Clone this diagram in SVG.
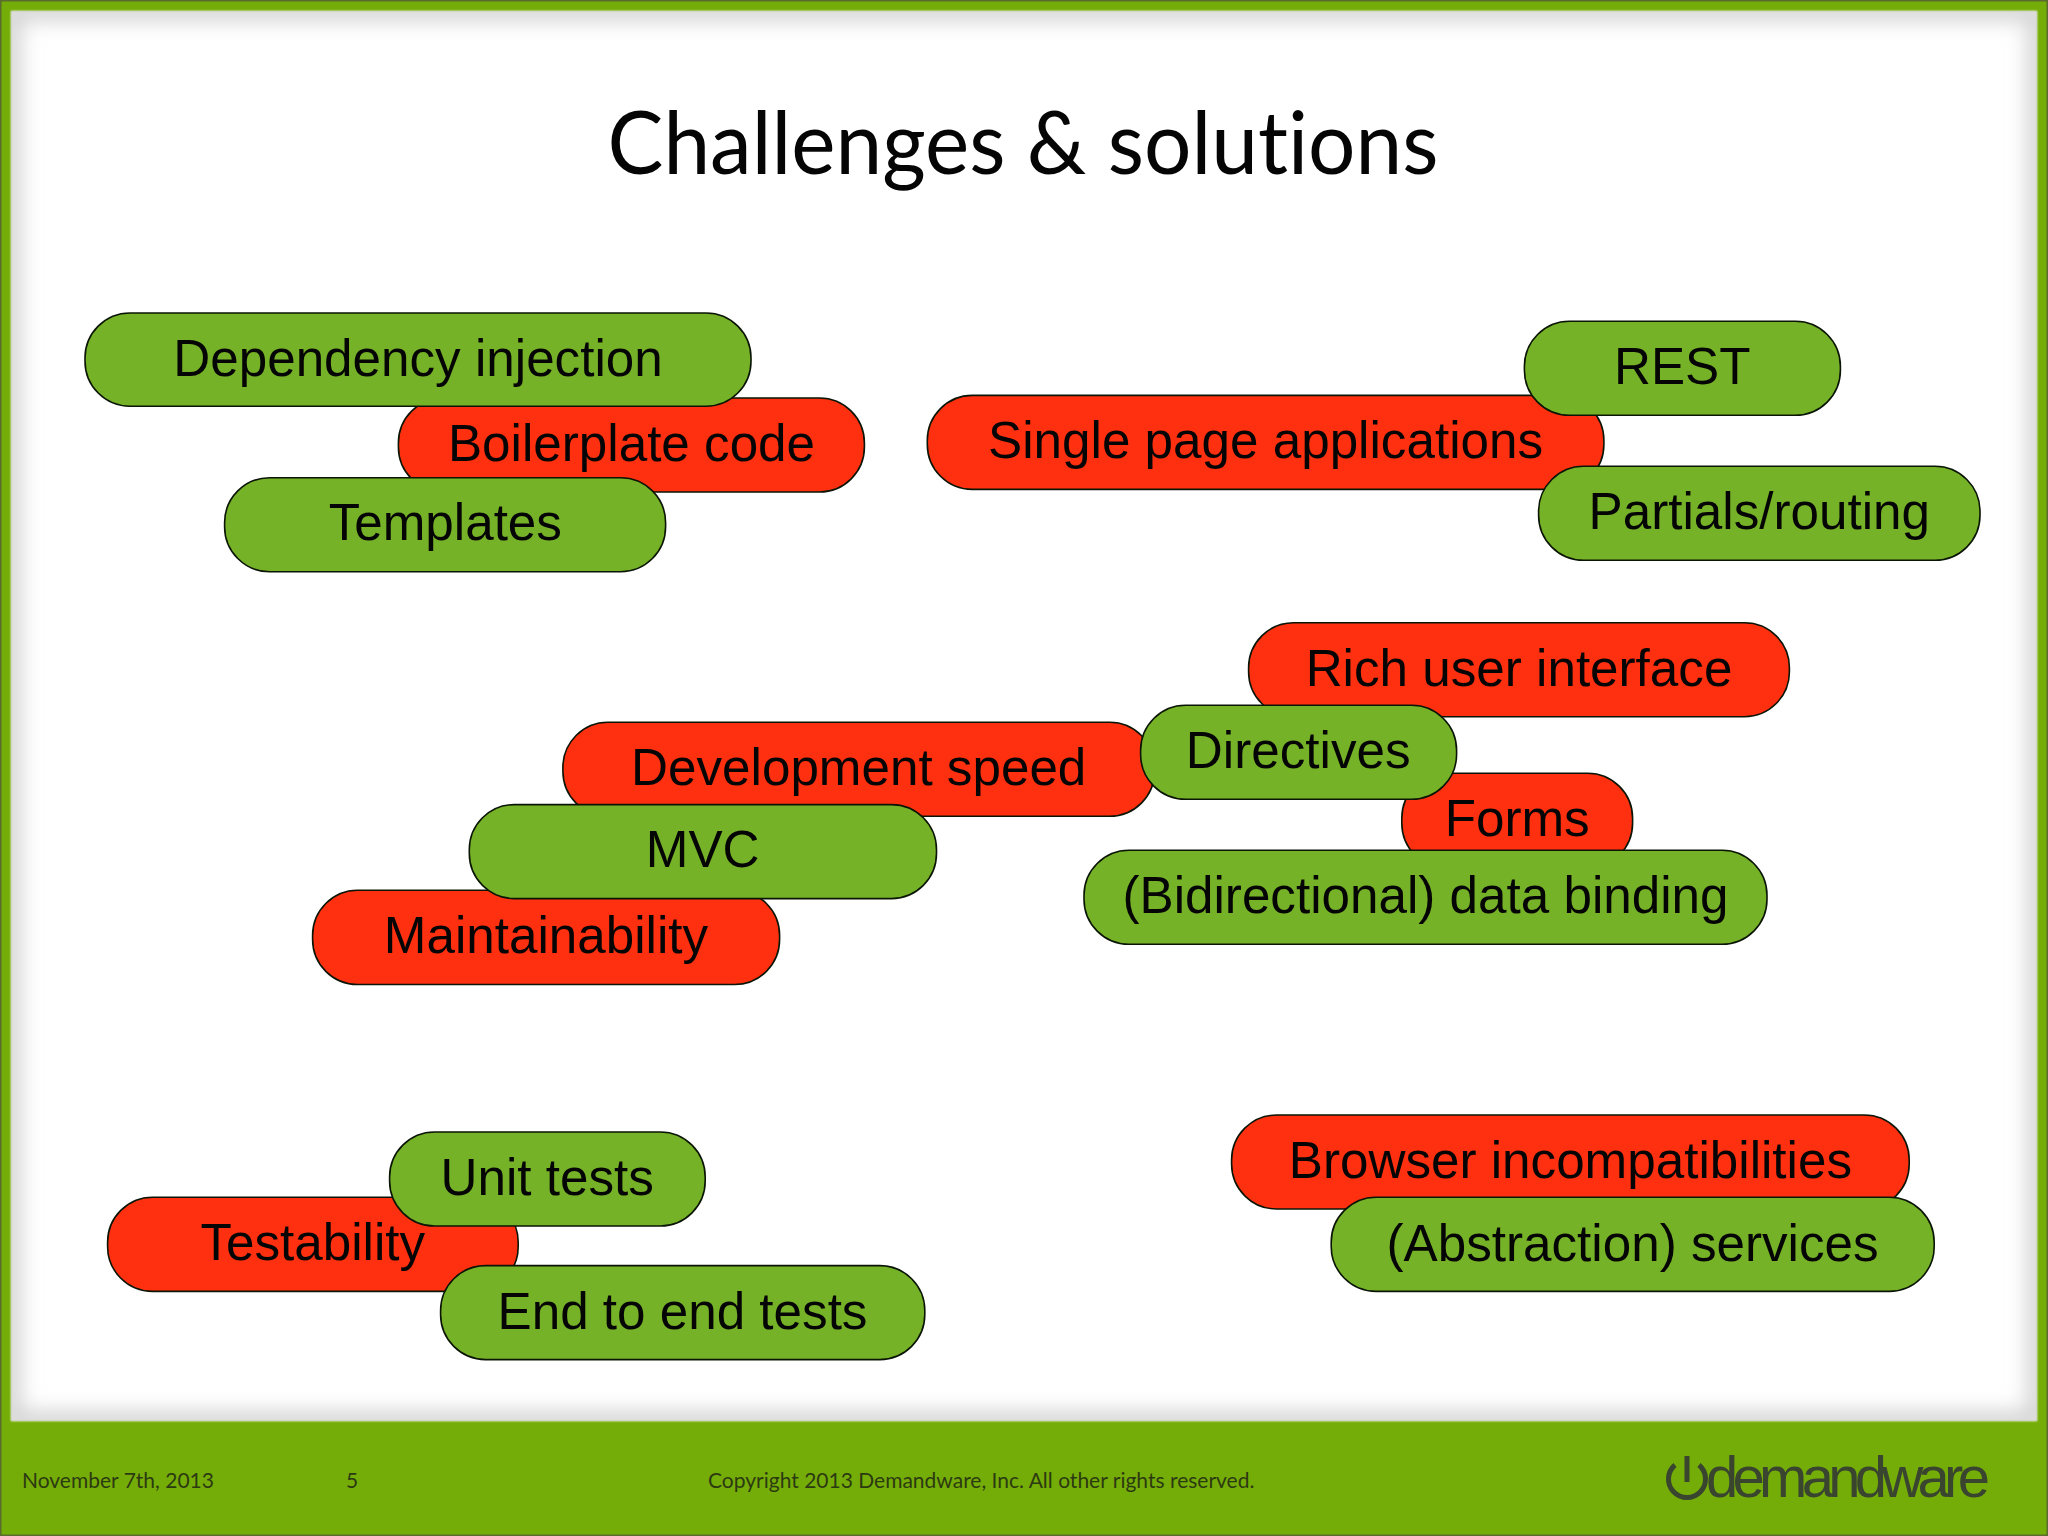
<svg xmlns="http://www.w3.org/2000/svg" width="2048" height="1536" viewBox="0 0 2048 1536">
<defs>
<style>
.g{fill:#76b227;stroke:#0a1505;stroke-width:1.6}
.r{fill:#ff3010;stroke:#0a1505;stroke-width:1.6}
.t{font-family:"Liberation Sans",Arial,sans-serif;font-size:51.2px;fill:#050505;text-anchor:middle}
.f{font-family:Lato,"Open Sans",sans-serif;font-size:21px;fill:#2c3a12}
</style>
<filter id="b" x="-5%" y="-5%" width="110%" height="110%"><feGaussianBlur stdDeviation="10"/></filter>
<filter id="s" x="-1%" y="-1%" width="102%" height="102%"><feGaussianBlur stdDeviation="1"/></filter>
<clipPath id="c"><rect x="11" y="11" width="2026" height="1410"/></clipPath>
</defs>
<rect id="bg" x="0" y="0" width="2048" height="1536" fill="#75ad08" stroke="#5a6b30" stroke-width="3"/>
<rect x="11" y="11" width="2026" height="1410" fill="#fff" filter="url(#s)"/>
<g clip-path="url(#c)"><rect x="11" y="11" width="2026" height="1410" fill="none" stroke="#d2d2d2" stroke-width="20" filter="url(#b)"/></g>
<text id="title" x="1023" y="174" font-family="Lato,'Open Sans',sans-serif" font-size="88" fill="#050505" text-anchor="middle" textLength="831" lengthAdjust="spacingAndGlyphs" style="font-variant-ligatures:none">Challenges &amp; solutions</text>
<g id="connectors"/>
<g id="n-boilerplate"><rect class="r" x="398.4" y="398" width="466" height="94" rx="45"/><text class="t" x="631.5" y="461">Boilerplate code</text></g>
<g id="n-dependency"><rect class="g" x="85" y="313" width="666" height="93.2" rx="45"/><text class="t" x="418" y="376">Dependency injection</text></g>
<g id="n-templates"><rect class="g" x="224.6" y="477.7" width="441" height="94" rx="45"/><text class="t" x="445.3" y="540.3">Templates</text></g>
<g id="n-spa"><rect class="r" x="927.3" y="395.4" width="676.6" height="94" rx="45"/><text class="t" x="1265.6" y="458.3">Single page applications</text></g>
<g id="n-rest"><rect class="g" x="1524.4" y="321.3" width="316" height="94" rx="45"/><text class="t" x="1682.2" y="383.8">REST</text></g>
<g id="n-partials"><rect class="g" x="1538.6" y="466.3" width="441.4" height="94" rx="45"/><text class="t" x="1759.3" y="528.8">Partials/routing</text></g>
<g id="n-rich"><rect class="r" x="1248.6" y="622.7" width="540.8" height="94" rx="45"/><text class="t" x="1519" y="686.3">Rich user interface</text></g>
<g id="n-devspeed"><rect class="r" x="562.9" y="722.3" width="591.7" height="94" rx="45"/><text class="t" x="858.7" y="785">Development speed</text></g>
<g id="n-forms"><rect class="r" x="1401.8" y="773.2" width="230.8" height="95" rx="45"/><text class="t" x="1517.2" y="836">Forms</text></g>
<g id="n-directives"><rect class="g" x="1140.6" y="705.3" width="316" height="94" rx="45"/><text class="t" x="1298.2" y="768">Directives</text></g>
<g id="n-binding"><rect class="g" x="1084" y="850.3" width="683" height="94" rx="45"/><text class="t" x="1425.5" y="913">(Bidirectional) data binding</text></g>
<g id="n-maintain"><rect class="r" x="312.6" y="890.3" width="467" height="94.2" rx="45"/><text class="t" x="546" y="953">Maintainability</text></g>
<g id="n-mvc"><rect class="g" x="469.3" y="804.6" width="467.2" height="94" rx="45"/><text class="t" x="702.7" y="867">MVC</text></g>
<g id="n-testability"><rect class="r" x="107.6" y="1197.2" width="410.6" height="94.2" rx="45"/><text class="t" x="312.8" y="1260">Testability</text></g>
<g id="n-unit"><rect class="g" x="389.6" y="1132" width="315.6" height="94" rx="45"/><text class="t" x="547.2" y="1194.5">Unit tests</text></g>
<g id="n-e2e"><rect class="g" x="440.6" y="1265.6" width="484.2" height="94" rx="45"/><text class="t" x="682.5" y="1328.5">End to end tests</text></g>
<g id="n-browser"><rect class="r" x="1231.6" y="1115" width="677.6" height="94" rx="45"/><text class="t" x="1570.4" y="1178">Browser incompatibilities</text></g>
<g id="n-abstraction"><rect class="g" x="1331.2" y="1197.2" width="603" height="94.2" rx="45"/><text class="t" x="1632.6" y="1260.5">(Abstraction) services</text></g>
<text class="f" x="22" y="1488">November 7th, 2013</text>
<text class="f" x="346" y="1488">5</text>
<text class="f" x="708" y="1488">Copyright 2013 Demandware, Inc. All other rights reserved.</text>
<g id="logo">
<path d="M1675 1465 a18.500 18.500 0 1 0 24 0" fill="none" stroke="#39452f" stroke-width="5"/>
<path d="M1687 1456 v26" fill="none" stroke="#39452f" stroke-width="5"/>
<text x="1706" y="1497" font-family="'Liberation Sans',Arial,sans-serif" font-size="58" fill="#39452f" textLength="284" lengthAdjust="spacing">demandware</text>
</g>
</svg>
